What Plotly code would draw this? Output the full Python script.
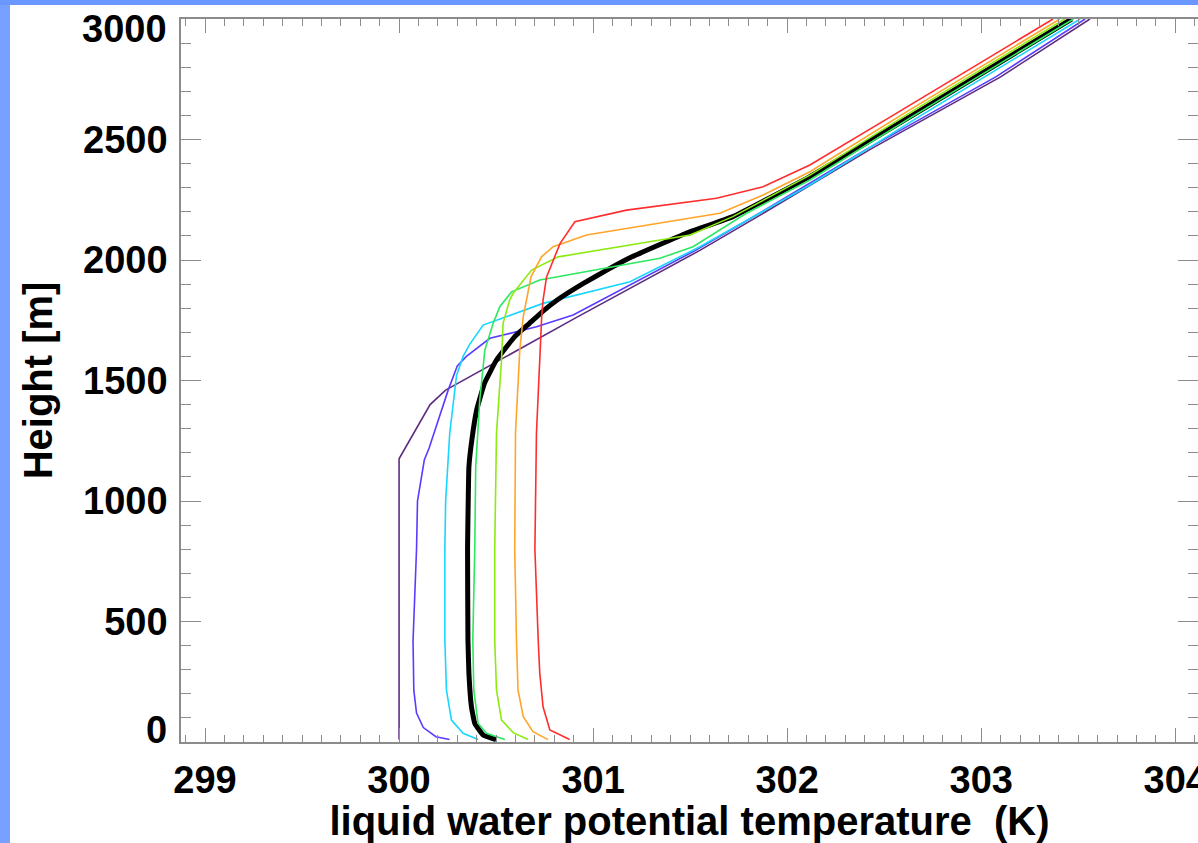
import plotly.graph_objects as go

# ---- data (height [m], liquid water potential temperature [K]) ----
h_purple = [10, 1175, 1400, 1460, 1760, 2040, 2200, 2460, 2760, 3000]
t_purple = [300.00, 300.00, 300.16, 300.24, 300.91, 301.55, 301.89, 302.43, 303.10, 303.56]

h_blue = [10, 22, 60, 120, 215, 420, 800, 1000, 1170, 1220, 1460, 1560, 1600, 1675, 1723, 1772, 2041, 2200, 2460, 2760, 3000]
t_blue = [300.26, 300.19, 300.125, 300.09, 300.076, 300.072, 300.09, 300.095, 300.13, 300.155, 300.253, 300.30, 300.347, 300.468, 300.708, 300.897, 301.53, 301.87, 302.41, 303.075, 303.535]

h_cyan = [10, 36, 91, 216, 423, 800, 1000, 1280, 1520, 1600, 1650, 1730, 1820, 1910, 2055, 2311, 2600, 3000]
t_cyan = [300.407, 300.33, 300.27, 300.244, 300.236, 300.236, 300.24, 300.261, 300.296, 300.33, 300.364, 300.433, 300.742, 301.19, 301.55, 302.117, 302.69, 303.51]

h_black = [10, 29, 78, 146, 285, 423, 800, 1142, 1253, 1378, 1488, 1585, 1681, 1737, 1790, 1834, 1903, 1960, 2013, 2111, 2180, 2346, 2600, 3000]
t_black = [300.50, 300.433, 300.39, 300.373, 300.36, 300.355, 300.353, 300.36, 300.375, 300.40, 300.44, 300.502, 300.595, 300.672, 300.745, 300.815, 300.95, 301.075, 301.2, 301.48, 301.72, 302.117, 302.645, 303.466]

h_green = [10, 36, 78, 216, 423, 800, 1142, 1420, 1626, 1737, 1806, 1868, 1917, 2007, 2055, 2194, 2332, 2600, 3000]
t_green = [300.545, 300.45, 300.407, 300.385, 300.38, 300.39, 300.395, 300.416, 300.442, 300.485, 300.519, 300.58, 300.725, 301.344, 301.515, 301.79, 302.117, 302.655, 303.475]

h_yg = [10, 39, 91, 216, 423, 800, 1281, 1585, 1737, 1834, 1862, 1958, 2013, 2104, 2180, 2352, 2600, 3000]
t_yg = [300.665, 300.588, 300.528, 300.502, 300.493, 300.493, 300.502, 300.528, 300.536, 300.57, 300.588, 300.683, 300.82, 301.50, 301.72, 302.117, 302.61, 303.43]

h_orange = [10, 43, 105, 216, 423, 800, 1281, 1626, 1765, 1834, 1930, 2013, 2055, 2104, 2194, 2270, 2366, 2600, 3000]
t_orange = [300.768, 300.69, 300.64, 300.613, 300.605, 300.596, 300.60, 300.622, 300.64, 300.657, 300.68, 300.734, 300.794, 300.966, 301.653, 301.876, 302.117, 302.585, 303.405]

h_red = [10, 50, 146, 286, 423, 800, 1282, 1626, 1765, 1834, 1930, 2069, 2159, 2207, 2256, 2304, 2394, 2600, 3000]
t_red = [300.879, 300.777, 300.742, 300.725, 300.717, 300.70, 300.708, 300.725, 300.735, 300.742, 300.76, 300.83, 300.906, 301.172, 301.636, 301.876, 302.117, 302.545, 303.37]

x_tickvals = [299, 300, 301, 302, 303, 304]
x_ticktext = ["299", "300", "301", "302", "303", "304"]
y_tickvals = [0, 500, 1000, 1500, 2000, 2500, 3000]
y_ticktext = ["", "500", "1000", "1500", "2000", "2500", ""]

series = [
    ("purple", t_purple, h_purple, "#5e2d80", 1.6),
    ("blue", t_blue, h_blue, "#5a3cff", 1.6),
    ("cyan", t_cyan, h_cyan, "#18d6ff", 1.6),
    ("black", t_black, h_black, "#000000", 5),
    ("green", t_green, h_green, "#2ee860", 1.6),
    ("yellowgreen", t_yg, h_yg, "#8ceb10", 1.6),
    ("orange", t_orange, h_orange, "#ffa52a", 1.6),
    ("red", t_red, h_red, "#ff2d2d", 1.6),
]

FONT = "Liberation Sans, Arial, Helvetica, sans-serif"
AX = "#8c8c8c"

fig = go.Figure()
for name, t, h, col, w in series:
    fig.add_trace(go.Scatter(x=t, y=h, mode="lines", name=name,
                             line=dict(color=col, width=w, shape="spline", smoothing=0.3) if name == "black"
                             else dict(color=col, width=w),
                             showlegend=False))

fig.update_layout(
    width=1198, height=843,
    margin=dict(l=181, r=0, t=19, b=101, autoexpand=False),
    paper_bgcolor="white", plot_bgcolor="white",
    font=dict(family=FONT, color="black"),
    xaxis=dict(
        range=[298.8763, 304.117], tickvals=x_tickvals, ticktext=x_ticktext,
        automargin=False,
        ticks="inside", ticklen=14, tickwidth=1.2, tickcolor=AX,
        showline=True, linecolor=AX, linewidth=1.5, mirror="allticks",
        minor=dict(dtick=0.1, tick0=299, ticks="inside", ticklen=7, tickwidth=1.2, tickcolor=AX),
        showgrid=False, zeroline=False,
        tickfont=dict(size=38, family=FONT, weight="bold", color="black"),
        ticklabelstandoff=4, ticklabeloverflow="allow",
        title=dict(text="liquid water potential temperature \u00a0(K)",
                   font=dict(size=40, family=FONT, weight="bold", color="black"),
                   standoff=0),
    ),
    yaxis=dict(
        range=[0, 3000], tickvals=y_tickvals, ticktext=y_ticktext,
        automargin=False,
        ticks="inside", ticklen=20, tickwidth=1.2, tickcolor=AX,
        showline=True, linecolor=AX, linewidth=1.5, mirror="allticks",
        minor=dict(dtick=100, tick0=0, ticks="inside", ticklen=10, tickwidth=1.2, tickcolor=AX),
        showgrid=False, zeroline=False,
        tickfont=dict(size=38, family=FONT, weight="bold", color="black"),
        ticklabelstandoff=4,
        title=dict(text="Height [m]",
                   font=dict(size=40, family=FONT, weight="bold", color="black"),
                   standoff=18),
    ),
    shapes=[
        dict(type="rect", xref="paper", yref="paper", x0=-0.2, x1=(10 - 181) / 1017,
             y0=-0.2, y1=1.1, fillcolor="#78a0ff", line=dict(width=0), layer="below"),
        dict(type="rect", xref="paper", yref="paper", x0=-0.2, x1=1.05,
             y0=(742 - 5) / 723, y1=1.1, fillcolor="#6a98ff", line=dict(width=0), layer="below"),
    ],
    annotations=[
        dict(x=0, y=0, xref="paper", yref="y", text="0", showarrow=False,
             xanchor="right", yanchor="middle", xshift=-12, yshift=12,
             font=dict(size=38, family=FONT, weight="bold", color="black")),
        dict(x=0, y=3000, xref="paper", yref="y", text="3000", showarrow=False,
             xanchor="right", yanchor="middle", xshift=-12, yshift=-10,
             font=dict(size=38, family=FONT, weight="bold", color="black")),
    ],
)

fig.write_html("out.html")
